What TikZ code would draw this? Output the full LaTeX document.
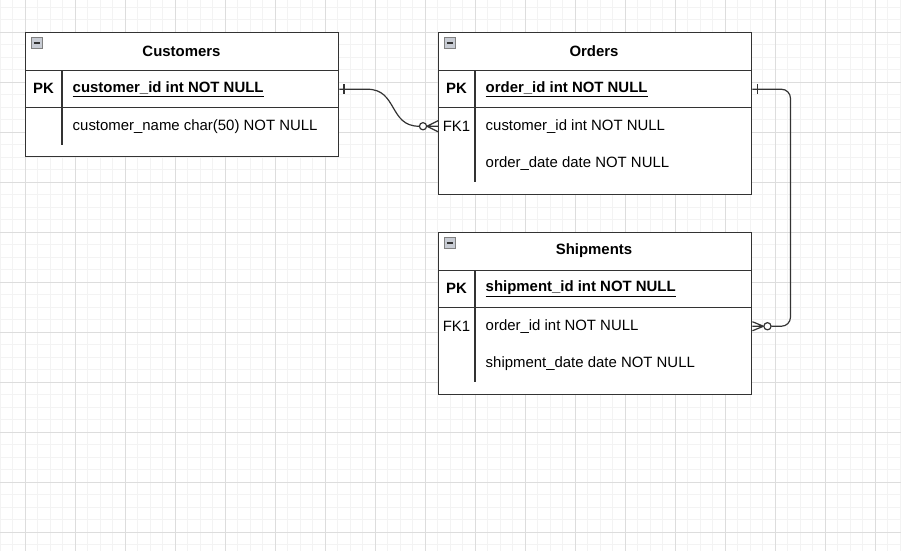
\documentclass[tikz,border=0pt]{standalone}
\usepackage{fontspec}
\setmainfont{Liberation Sans}
\usetikzlibrary{calc}

\definecolor{gridminor}{HTML}{F3F3F3}
\definecolor{gridmajor}{HTML}{DDDDDD}
\definecolor{edgegray}{HTML}{333333}
\definecolor{iconfill}{HTML}{C8CCD4}

\newcommand{\pxu}{0.75pt}

\begin{document}
\begin{tikzpicture}[x=\pxu, y=-\pxu, line width=1.1pt]
        \tikzstyle{tblbox}=[draw=edgegray, rectangle, anchor=north west, inner sep=0pt,
                            minimum width=313*\pxu]
        \tikzstyle{rowbox}=[draw=edgegray, rectangle, anchor=north west, inner sep=0pt,
                            minimum width=313*\pxu, minimum height=37*\pxu]
        \tikzstyle{rowfree}=[rowbox, draw=none]
        \tikzstyle{title}=[font=\fontsize{11.2}{13}\selectfont\bfseries, inner sep=0pt]
        \tikzstyle{keytxt}=[font=\fontsize{11.2}{13}\selectfont, inner sep=0pt]
        \tikzstyle{pktxt}=[keytxt, font=\fontsize{11.2}{13}\selectfont\bfseries]
        \tikzstyle{field}=[keytxt, anchor=west]
        \tikzstyle{pkfield}=[pktxt, anchor=west]
        \tikzstyle{divider}=[draw=edgegray]
        \tikzstyle{rel}=[draw=edgegray, line width=0.9pt]

        % background grid
        \useasboundingbox (0,0) rectangle (901,551);
        \fill[white] (0,0) rectangle (901,551);
        \foreach \gx in {0,12.5,...,901} \draw[gridminor, line width=0.6pt] (\gx,0) -- (\gx,551);
        \foreach \gy in {7,19.5,...,551} \draw[gridminor, line width=0.6pt] (0,\gy) -- (901,\gy);
        \foreach \gx in {25,75,...,901} \draw[gridmajor, line width=0.6pt] (\gx,0) -- (\gx,551);
        \foreach \gy in {32,82,...,551} \draw[gridmajor, line width=0.6pt] (0,\gy) -- (901,\gy);

        % Customers
        \node[tblbox, fill=white, minimum height=124*\pxu] (cust) at (25,32) {};
        \node[rowbox] (cust-pk) at (25,70) {};
        \node[rowfree] (cust-name) at (25,107) {};
        \node[title] (cust-title) at (181.5,51) {Customers};
        \node[pktxt] (cust-pk-key) at (43.5,88.5) {PK};
        \node[pkfield] (cust-pk-txt) at (72,89) {\underline{customer\_id int NOT NULL}};
        \node[field] (cust-name-txt) at (72,126.5) {customer\_name char(50) NOT NULL};
        \draw[divider] (62,70) -- (62,145);

        % Orders
        \node[tblbox, fill=white, minimum height=162*\pxu] (ord) at (438,32) {};
        \node[rowbox] (ord-pk) at (438,70) {};
        \node[rowfree] (ord-fk) at (438,107) {};
        \node[rowfree] (ord-date) at (438,144.5) {};
        \node[title] (ord-title) at (594,51) {Orders};
        \node[pktxt] (ord-pk-key) at (456.5,88.5) {PK};
        \node[pkfield] (ord-pk-txt) at (485,89) {\underline{order\_id int NOT NULL}};
        \node[keytxt] (ord-fk-key) at (456.5,126.5) {FK1};
        \node[field] (ord-fk-txt) at (485,126.5) {customer\_id int NOT NULL};
        \node[field] (ord-date-txt) at (485,164) {order\_date date NOT NULL};
        \draw[divider] (475,70) -- (475,182);

        % Shipments
        \node[tblbox, fill=white, minimum height=162*\pxu] (ship) at (438,232) {};
        \node[rowbox] (ship-pk) at (438,270) {};
        \node[rowfree] (ship-fk) at (438,307) {};
        \node[rowfree] (ship-date) at (438,344.5) {};
        \node[title] (ship-title) at (594,251) {Shipments};
        \node[pktxt] (ship-pk-key) at (456.5,288.5) {PK};
        \node[pkfield] (ship-pk-txt) at (485,289) {\underline{shipment\_id int NOT NULL}};
        \node[keytxt] (ship-fk-key) at (456.5,326.5) {FK1};
        \node[field] (ship-fk-txt) at (485,326.5) {order\_id int NOT NULL};
        \node[field] (ship-date-txt) at (485,364) {shipment\_date date NOT NULL};
        \draw[divider] (475,270) -- (475,382);

        % collapse icons
        \foreach \t in {cust,ord,ship} {
            \draw[gray, fill=iconfill, line width=0.5pt] ($(\t.north west)+(6,5)$) rectangle ++(11,11);
            \draw[edgegray, line width=1.5pt] ($(\t.north west)+(8.5,10.5)$) -- ++(6,0);
        }

        % Customers 1 -- 0..n Orders
        \draw[rel] (cust-pk.east) -- ++(28,0)
              .. controls +(30,0) and +(-30,0) .. ($(ord-fk.west)+(-19,0)$);
        \draw[rel] ($(cust-pk.east)+(4.5,-5)$) -- ++(0,10);
        \draw[rel, fill=white] ($(ord-fk.west)+(-15,0)$) circle (3.6);
        \draw[rel] ($(ord-fk.west)+(-11,0)$) -- ($(ord-fk.west)+(0,-5.5)$)
                   ($(ord-fk.west)+(-11,0)$) -- (ord-fk.west)
                   ($(ord-fk.west)+(-11,0)$) -- ($(ord-fk.west)+(0,5.5)$);

        % Orders 1 -- 0..n Shipments
        \draw[rel, rounded corners=9*\pxu] (ord-pk.east) -- ++(38,0)
              |- ($(ship-fk.west)+(331,0)$) -- ($(ship-fk.east)+(19,0)$);
        \draw[rel] ($(ord-pk.east)+(5,-5)$) -- ++(0,10);
        \draw[rel, fill=white] ($(ship-fk.east)+(15,0)$) circle (3.6);
        \draw[rel] ($(ship-fk.east)+(11,0)$) -- ($(ship-fk.east)+(0,-4.5)$)
                   ($(ship-fk.east)+(11,0)$) -- (ship-fk.east)
                   ($(ship-fk.east)+(11,0)$) -- ($(ship-fk.east)+(0,4.5)$);
\end{tikzpicture}
\end{document}
